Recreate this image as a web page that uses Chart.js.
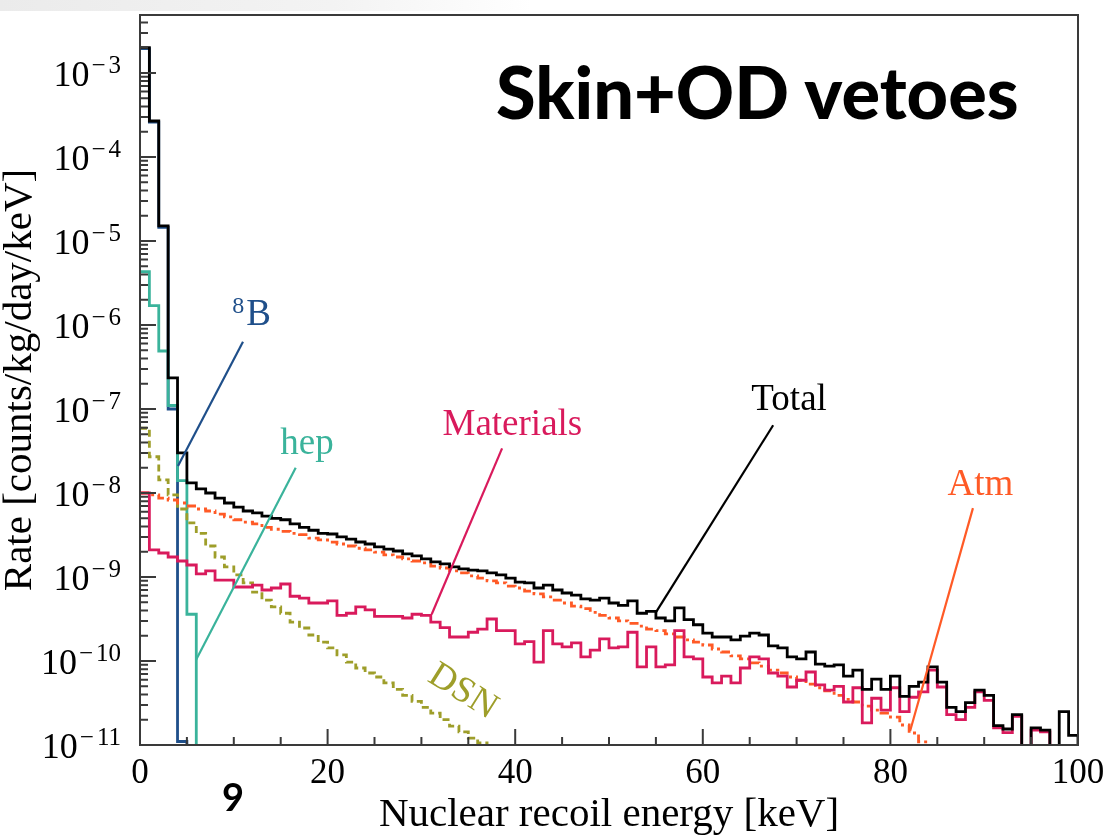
<!DOCTYPE html>
<html>
<head>
<meta charset="utf-8">
<script src="https://cdn.jsdelivr.net/npm/chart.js@4.4.1/dist/chart.umd.min.js"></script>
<style>
  html, body { margin: 0; padding: 0; background: #fff; }
  #wrap { position: relative; width: 1108px; height: 840px; overflow: hidden; background: #fff; }
  #topband { position: absolute; left: 0; top: 0; width: 1108px; height: 11px;
             background: linear-gradient(90deg, #ebebeb 0%, #f3f3f3 30%, #fff 48%); }
  #rateChart { position: absolute; left: 0; top: 0; }
  #vetoTitle { position: absolute; left: 496px; top: 55px; font-family: Lato, "Open Sans", sans-serif;
               font-weight: 900; font-size: 72px; line-height: 72px; color: #000; white-space: nowrap; }
  #pageNum { position: absolute; left: 222px; top: 777px; font-family: Lato, "Open Sans", sans-serif;
             font-weight: 700; font-size: 38px; line-height: 38px; color: #000; }
</style>
</head>
<body>
<div id="wrap">
  <div id="topband"></div>
  <canvas id="rateChart" width="1108" height="840"></canvas>
  <div id="vetoTitle">Skin+OD vetoes</div>
  <div id="pageNum">9</div>
</div>
<script>
// Rates per 1 keV bin [counts/kg/day/keV], bin i covers [i, i+1) keV. 0 = empty bin.
const totalRate = [
  2.0e-3, 2.68e-4, 1.51e-5, 2.34e-7, 3.0e-8, 1.32e-8, 1.12e-8, 1.0e-8, 8.7e-9, 7.6e-9,
  6.8e-9, 6.1e-9, 5.8e-9, 5.3e-9, 5.0e-9, 4.8e-9, 4.3e-9, 3.9e-9, 3.6e-9, 3.3e-9,
  3.25e-9, 3.0e-9, 2.83e-9, 2.61e-9, 2.47e-9, 2.28e-9, 2.15e-9, 2.04e-9, 1.88e-9, 1.78e-9,
  1.64e-9, 1.51e-9, 1.43e-9, 1.32e-9, 1.25e-9, 1.21e-9, 1.18e-9, 1.12e-9, 1.06e-9, 9.7e-10,
  8.7e-10, 8.5e-10, 7.4e-10, 8.0e-10, 7.0e-10, 6.45e-10, 6.1e-10, 5.5e-10, 5.3e-10, 5.6e-10,
  4.9e-10, 4.6e-10, 5.2e-10, 3.7e-10, 3.9e-10, 3.25e-10, 3.0e-10, 4.3e-10, 3.1e-10, 2.7e-10,
  2.15e-10, 1.93e-10, 1.93e-10, 1.78e-10, 1.98e-10, 2.15e-10, 2.04e-10, 1.51e-10, 1.43e-10, 1.12e-10,
  1.06e-10, 1.28e-10, 9.2e-11, 8.7e-11, 9.0e-11, 6.6e-11, 7.8e-11, 4.6e-11, 6.1e-11, 4.6e-11,
  6.6e-11, 3.8e-11, 5.0e-11, 5.6e-11, 8.5e-11, 5.6e-11, 2.8e-11, 2.5e-11, 3.2e-11, 4.5e-11,
  3.9e-11, 1.7e-11, 1.55e-11, 2.3e-11, 0, 1.6e-11, 1.5e-11, 0, 2.5e-11, 1.3e-11
];
const materialsRate = [
  1.0e-8, 2.1e-9, 1.93e-9, 1.73e-9, 1.55e-9, 1.39e-9, 1.09e-9, 1.18e-9, 9.2e-10, 9.2e-10,
  7.6e-10, 7.6e-10, 8.0e-10, 7.0e-10, 7.4e-10, 8.25e-10, 5.9e-10, 5.6e-10, 4.9e-10, 4.9e-10,
  5.2e-10, 3.5e-10, 3.7e-10, 4.4e-10, 4.05e-10, 3.4e-10, 3.4e-10, 3.4e-10, 3.25e-10, 3.6e-10,
  3.5e-10, 2.9e-10, 2.5e-10, 1.93e-10, 1.93e-10, 2.2e-10, 2.4e-10, 3.16e-10, 2.3e-10, 2.3e-10,
  1.6e-10, 1.7e-10, 9.7e-11, 2.3e-10, 1.6e-10, 1.47e-10, 1.64e-10, 1.12e-10, 1.35e-10, 1.83e-10,
  1.43e-10, 1.47e-10, 2.2e-10, 8.5e-11, 1.47e-10, 8.5e-11, 9.0e-11, 2.3e-10, 1.12e-10, 1.06e-10,
  6.45e-11, 5.5e-11, 6.6e-11, 5.5e-11, 8.25e-11, 1.12e-10, 1.06e-10, 7.2e-11, 6.6e-11, 4.9e-11,
  5.9e-11, 7.4e-11, 5.2e-11, 4.5e-11, 5.0e-11, 3.25e-11, 4.8e-11, 1.83e-11, 3.6e-11, 2.6e-11,
  4.8e-11, 2.5e-11, 3.7e-11, 4.3e-11, 7.8e-11, 4.9e-11, 2.3e-11, 2.0e-11, 2.8e-11, 4.3e-11,
  3.4e-11, 1.6e-11, 1.4e-11, 2.2e-11, 0, 1.5e-11, 1.43e-11, 0, 0, 0
];
const atmRate = [
  1.0e-8, 9.5e-9, 8.7e-9, 8.25e-9, 7.6e-9, 7.0e-9, 6.45e-9, 6.1e-9, 5.6e-9, 5.2e-9,
  4.8e-9, 4.5e-9, 4.3e-9, 3.9e-9, 3.7e-9, 3.5e-9, 3.3e-9, 3.2e-9, 2.9e-9, 2.76e-9,
  2.6e-9, 2.47e-9, 2.34e-9, 2.2e-9, 2.1e-9, 1.98e-9, 1.83e-9, 1.73e-9, 1.64e-9, 1.55e-9,
  1.47e-9, 1.35e-9, 1.28e-9, 1.18e-9, 1.12e-9, 1.03e-9, 9.7e-10, 9.0e-10, 8.5e-10, 7.8e-10,
  7.4e-10, 6.8e-10, 6.3e-10, 5.8e-10, 5.3e-10, 4.9e-10, 4.5e-10, 4.2e-10, 3.8e-10, 3.5e-10,
  3.25e-10, 3.0e-10, 2.8e-10, 2.6e-10, 2.4e-10, 2.3e-10, 2.1e-10, 1.93e-10, 1.78e-10, 1.68e-10,
  1.55e-10, 1.39e-10, 1.28e-10, 1.15e-10, 1.06e-10, 9.5e-11, 8.7e-11, 7.8e-11, 7.2e-11, 6.45e-11,
  5.9e-11, 5.3e-11, 4.8e-11, 4.4e-11, 3.9e-11, 3.5e-11, 3.25e-11, 2.9e-11, 2.6e-11, 2.4e-11,
  2.15e-11, 1.73e-11, 1.39e-11, 1.09e-11
];
const dsnRate = [
  5.9e-8, 2.7e-8, 1.43e-8, 9.5e-9, 6.45e-9, 4.4e-9, 3.3e-9, 2.34e-9, 1.73e-9, 1.32e-9,
  1.06e-9, 8.5e-10, 6.6e-10, 5.3e-10, 4.4e-10, 3.7e-10, 2.9e-10, 2.47e-10, 2.04e-10, 1.68e-10,
  1.43e-10, 1.18e-10, 9.7e-11, 8.25e-11, 7.2e-11, 6.45e-11, 5.5e-11, 4.6e-11, 3.9e-11, 3.3e-11,
  2.8e-11, 2.4e-11, 2.0e-11, 1.68e-11, 1.43e-11, 1.21e-11, 1.06e-11
];
const hepRate = [4.3e-6, 1.7e-6, 4.9e-7, 1.1e-7, 1.4e-8, 3.6e-10];
const b8Rate = [1.95e-3, 2.6e-4, 1.45e-5, 1.0e-7, 1.1e-11];

const energyTicks = [0, 20, 40, 60, 80, 100];
const rateDecades = [-11, -10, -9, -8, -7, -6, -5, -4, -3];

const SERIF = '"Liberation Serif", "Times New Roman", serif';
const EMPTY = 1e-14; // empty bins are pushed below the axis floor

// Histogram outline: one point per bin lower edge, then close at the last upper edge
function histPoints(rates) {
  const pts = rates.map((r, i) => ({ x: i, y: r > 0 ? r : EMPTY }));
  pts.push({ x: rates.length, y: EMPTY });
  return pts;
}

function histSet(label, rates, color, dash) {
  return {
    label: label,
    data: histPoints(rates),
    borderColor: color,
    borderWidth: 2.8,
    borderDash: dash || [],
    stepped: 'before',
    fill: false,
    pointRadius: 0
  };
}

// Callouts in data coordinates: text anchor, and a leader line from -> to
const callouts = [
  { text: 'Total', color: '#000000', at: [69.2, 9.7e-8], from: [67.5, 6.4e-8], to: [55.0, 3.8e-10] },
  { text: 'Materials', color: '#d91a5c', at: [39.7, 4.9e-8], from: [38.6, 3.4e-8], to: [31.1, 3.6e-10] },
  { text: 'hep', color: '#3ab39b', at: [17.8, 2.9e-8], from: [16.6, 2.0e-8], to: [5.97, 1.03e-10] },
  { text: 'Atm', color: '#ff5a26', at: [89.6, 9.5e-9], from: [88.8, 6.6e-9], to: [82.1, 1.47e-11] },
  { text: 'B', sup: '8', color: '#1f4f8a', at: [11.9, 1.0e-6], from: [10.98, 6.3e-7], to: [4.05, 2.1e-8] },
  { text: 'DSN', color: '#9e9e2a', at: [34.4, 4.3e-11], angle: 32 }
];

const frameAndTicks = {
  id: 'frameAndTicks',
  afterDatasetsDraw(chart) {
    const { ctx, chartArea: a, scales: { x, y } } = chart;
    ctx.save();
    ctx.strokeStyle = '#3a3a3a';
    ctx.lineWidth = 2;
    ctx.beginPath();
    // inward ticks along energy: major every 20, minor every 5
    for (let e = 0; e <= 100; e += 5) {
      const px = x.getPixelForValue(e);
      const len = e % 20 === 0 ? 16 : 8;
      ctx.moveTo(px, a.bottom);
      ctx.lineTo(px, a.bottom - len);
    }
    // inward ticks along rate: decades long, 2..9 short
    for (let d = -11; d <= -3; d++) {
      for (let m = 1; m <= 9; m++) {
        const v = m * Math.pow(10, d);
        if (v > y.max) break;
        const py = y.getPixelForValue(v);
        ctx.moveTo(a.left, py);
        ctx.lineTo(a.left + (m === 1 ? 16 : 8), py);
      }
    }
    ctx.stroke();
    ctx.strokeRect(a.left, a.top, a.right - a.left, a.bottom - a.top);
    ctx.restore();
  }
};

const calloutPlugin = {
  id: 'callouts',
  afterDatasetsDraw(chart) {
    const { ctx, scales: { x, y } } = chart;
    ctx.save();
    callouts.forEach(c => {
      ctx.strokeStyle = c.color;
      ctx.fillStyle = c.color;
      ctx.lineWidth = 2.2;
      if (c.from) {
        ctx.beginPath();
        ctx.moveTo(x.getPixelForValue(c.from[0]), y.getPixelForValue(c.from[1]));
        ctx.lineTo(x.getPixelForValue(c.to[0]), y.getPixelForValue(c.to[1]));
        ctx.stroke();
      }
      const tx = x.getPixelForValue(c.at[0]);
      const ty = y.getPixelForValue(c.at[1]);
      if (c.angle) {
        ctx.save();
        ctx.translate(tx, ty);
        ctx.rotate(c.angle * Math.PI / 180);
        ctx.font = `37px ${SERIF}`;
        ctx.textAlign = 'center';
        ctx.textBaseline = 'middle';
        ctx.fillText(c.text, 0, 0);
        ctx.restore();
      } else if (c.sup) {
        ctx.textBaseline = 'alphabetic';
        ctx.textAlign = 'left';
        ctx.font = `37px ${SERIF}`;
        const w1 = ctx.measureText(c.text).width;
        ctx.font = `24px ${SERIF}`;
        const w2 = ctx.measureText(c.sup).width;
        const left = tx - (w1 + w2 + 2) / 2;
        ctx.fillText(c.sup, left, ty - 12);
        ctx.font = `37px ${SERIF}`;
        ctx.fillText(c.text, left + w2 + 2, ty);
      } else {
        ctx.textBaseline = 'alphabetic';
        ctx.textAlign = 'center';
        ctx.font = `37px ${SERIF}`;
        ctx.fillText(c.text, tx, ty);
      }
    });
    ctx.restore();
  }
};

const axisText = {
  id: 'axisText',
  afterDraw(chart) {
    const { ctx, chartArea: a, scales: { x, y } } = chart;
    ctx.save();
    ctx.fillStyle = '#000';
    ctx.textBaseline = 'alphabetic';

    ctx.font = `35px ${SERIF}`;
    ctx.textAlign = 'center';
    energyTicks.forEach(e => ctx.fillText(String(e), x.getPixelForValue(e), a.bottom + 38));

    // 10 with a raised negative exponent
    ctx.textAlign = 'right';
    rateDecades.forEach(d => {
      const py = y.getPixelForValue(Math.pow(10, d));
      const right = a.left - 19;
      const digits = String(-d);
      ctx.font = `25px ${SERIF}`;
      const dw = ctx.measureText(digits).width;
      const mw = ctx.measureText('\u2212').width;
      ctx.fillText(digits, right, py);
      ctx.fillText('\u2212', right - dw - 3, py);
      ctx.font = `36px ${SERIF}`;
      ctx.fillText('10', right - dw - 3 - mw - 2, py + 13);
    });

    ctx.font = `41px ${SERIF}`;
    ctx.textAlign = 'center';
    ctx.fillText('Nuclear recoil energy [keV]', (a.left + a.right) / 2, a.bottom + 81);

    ctx.save();
    ctx.translate(31, (a.top + a.bottom) / 2);
    ctx.rotate(-Math.PI / 2);
    ctx.fillText('Rate [counts/kg/day/keV]', 0, 0);
    ctx.restore();

    ctx.restore();
  }
};

const ctx = document.getElementById('rateChart').getContext('2d');
const rateChart = new Chart(ctx, {
  type: 'line',
  data: {
    datasets: [
      histSet('Total', totalRate, '#000000'),
      histSet('Materials', materialsRate, '#d91a5c'),
      histSet('Atm', atmRate, '#ff5a26', [9, 4, 3, 4]),
      histSet('DSN', dsnRate, '#9e9e2a', [7, 4]),
      histSet('hep', hepRate, '#3ab39b'),
      histSet('8B', b8Rate, '#1f4f8a')
    ]
  },
  options: {
    responsive: false,
    animation: false,
    layout: { padding: { left: 140, top: 15, right: 30, bottom: 95 } },
    plugins: { legend: { display: false }, tooltip: { enabled: false } },
    scales: {
      x: { type: 'linear', display: false, min: 0, max: 100 },
      y: { type: 'logarithmic', display: false, min: 1e-11, max: 4.9e-3 }
    }
  },
  plugins: [frameAndTicks, calloutPlugin, axisText]
});
</script>
</body>
</html>
